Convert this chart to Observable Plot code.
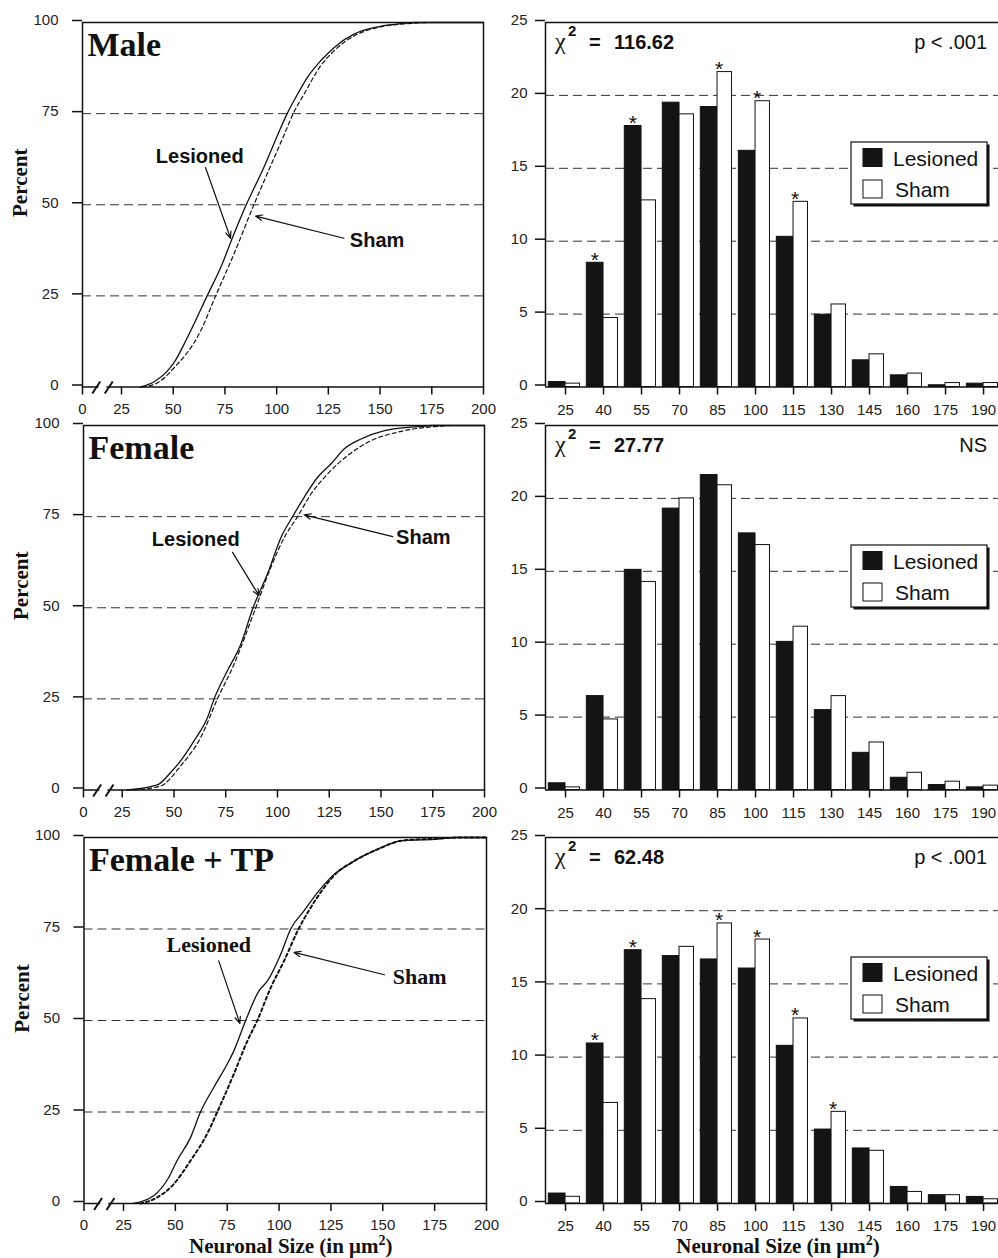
<!DOCTYPE html>
<html><head><meta charset="utf-8">
<script src="https://cdn.jsdelivr.net/npm/d3@7"></script>
<script src="https://cdn.jsdelivr.net/npm/@observablehq/plot@0.6"></script>
<style>
body{margin:0;background:#fff;overflow:hidden}
#wrap{position:relative;width:998px;height:1258px;overflow:hidden;background:#fff}
#wrap svg{position:absolute;overflow:visible}
</style></head><body><div id="wrap"></div>
<script>
// ---------- data ----------
const sizeTicks = [0, 25, 50, 75, 100, 125, 150, 175, 200];
const percentTicks = [0, 25, 50, 75, 100];
const percentGrid = [25, 50, 75];
const bins = [25, 40, 55, 70, 85, 100, 115, 130, 145, 160, 175, 190];
const countTicks = [0, 5, 10, 15, 20, 25];
const countGrid = [5, 10, 15, 20];
const panelNames = ["Male", "Female", "Female + TP"];
const chiValues = ["116.62", "27.77", "62.48"];
const pLabels = ["p < .001", "NS", "p < .001"];
const seriesNames = ["Lesioned", "Sham"];
const yTitle = "Percent";
const xTitle = "Neuronal Size (in \u03bcm";

// cumulative curves: [size, percent]
const maleLesioned = [[34,0],[41,1.5],[47,4.3],[50.3,6.6],[56.8,13.5],[66.4,25],[72.9,32.7],[79.3,41.9],[85.3,50],[93.8,60.2],[100.6,69.3],[105.1,75],[109.2,79.4],[114.8,84.9],[121.3,89.5],[127.7,93.1],[137.4,96.8],[147.1,98.6],[160,99.7],[168,100],[200,100]];
const maleSham = [[35,0],[42,1],[50.3,5.2],[63.2,15.3],[70.5,25],[79.3,36.4],[89,50],[94.6,57.4],[103.7,69.3],[108,75],[113.2,80.3],[121.3,88.1],[127.7,92.2],[137.4,96.3],[148.7,98.6],[163.5,99.7],[175,100],[200,100]];
const femaleLesioned = [[27.4,0],[42,1.4],[48.4,4.8],[53.2,8],[59.7,13.5],[66.2,19.9],[69.4,25],[75.8,32.7],[82.3,40],[88.2,50],[95.2,59.3],[101.7,69.3],[107.3,75],[112.9,80.3],[119.4,85.8],[125.9,89.5],[132.3,93.6],[140.4,96.3],[151.7,98.6],[167.8,99.7],[175,100],[200,100]];
const femaleSham = [[30.6,0],[43.5,1.1],[53.2,6.6],[62.9,14.4],[71,25],[79,34.5],[89.5,50],[96.8,61.1],[103.3,69.3],[109.7,75],[116.2,81.2],[124.2,86.7],[134,91.8],[143.6,95.4],[159.8,98.4],[175.9,99.7],[185,100],[200,100]];
const tpLesioned = [[29.8,0],[39.5,2.1],[46.8,7.1],[50.8,11.7],[57.3,18],[62.1,25],[68.5,31.7],[75,38.1],[78.2,41.7],[83.9,50],[90.3,58.1],[94.4,60.8],[100.8,68.1],[105.6,75],[112.1,80],[118.6,85],[125,89.1],[136.3,93.6],[147.6,96.8],[158.9,99.1],[175,99.5],[185,100],[200,100]];
const tpSham = [[33.1,0],[41.1,1.6],[49.2,5.3],[57.3,11.7],[65.3,19],[70.2,25],[78.2,35.4],[84.7,44.4],[89.5,50],[96,59],[102.4,66.3],[109.4,75],[115.3,80.9],[121.7,86.3],[126.6,89.7],[136.3,93.6],[147.6,96.8],[158.9,99.1],[175,99.7],[190,100],[200,100]];

// histograms (percent per bin)
const maleLesionedHist = [0.34,8.52,17.9,19.5,19.2,16.2,10.3,4.96,1.83,0.8,0.12,0.23];
const maleShamHist = [0.23,4.73,12.8,18.7,21.6,19.6,12.7,5.66,2.24,0.92,0.27,0.27];
const femaleLesionedHist = [0.46,6.44,15.1,19.3,21.6,17.6,10.16,5.48,2.55,0.84,0.34,0.18];
const femaleShamHist = [0.18,4.84,14.27,20.0,20.9,16.8,11.2,6.44,3.26,1.18,0.57,0.30];
const tpLesionedHist = [0.68,10.93,17.3,16.9,16.67,16.05,10.77,5.05,3.76,1.13,0.57,0.45];
const tpShamHist = [0.46,6.87,13.96,17.53,19.13,18.03,12.64,6.26,3.6,0.79,0.57,0.29];

// significance markers: [bin, series]
const maleStars = [[40,"Lesioned"],[55,"Lesioned"],[85,"Sham"],[100,"Sham"],[115,"Sham"]];
const femaleStars = [];
const tpStars = [[40,"Lesioned"],[55,"Lesioned"],[85,"Sham"],[100,"Sham"],[115,"Sham"],[130,"Sham"]];

// curve annotations: [label, textX, textY, arrowX1, arrowY1, arrowX2, arrowY2] in data units
const maleNotes = [["Lesioned",62.8,61.5,65.6,60.2,77.7,40.8],["Sham",135.4,38.4,132.5,40.8,89.8,46.9]];
const femaleNotes = [["Lesioned",60.5,67.0,78.3,65.2,91.1,53.3],["Sham",157.3,67.5,155.7,69.5,112.9,75.5]];
const tpNotes = [["Lesioned",66.1,68.6,70.9,66.3,81.1,49.2],["Sham",154.8,59.9,150.8,62.5,107.2,68.6]];

// ---------- layout ----------
const SANS = "'Liberation Sans', Arial, Helvetica, sans-serif";
const SERIF = "'Liberation Serif', 'Times New Roman', serif";
const INK = "#111";
const MT = 22, MB = 60;
const rows = [
  {top: 22, h: 364.5, xr: [82, 121, 483]},
  {top: 425, h: 364.5, xr: [83, 121.7, 484]},
  {top: 837, h: 366, xr: [83.5, 123, 486]}
];
const histDomain = [17.1, 195.9];
const wrap = document.getElementById("wrap");
const baseStyle = {background: "transparent", overflow: "visible", fontFamily: SANS, fontSize: "15px", color: INK};

function xTitleMark(offset) {
  return (index, scales, values, dims) => {
    const cx = (dims.marginLeft + dims.width - dims.marginRight) / 2 + offset;
    const y = dims.height - dims.marginBottom + 50;
    const t = d3.create("svg:text").attr("x", cx).attr("y", y).attr("text-anchor", "middle")
      .attr("font-family", SERIF).attr("font-weight", "bold").attr("font-size", 21).attr("fill", INK);
    t.append("tspan").text(xTitle);
    t.append("tspan").attr("dy", -8).attr("font-size", 14).text("2");
    t.append("tspan").attr("dy", 8).text(")");
    return t.node();
  };
}

function leftPanel(i, les, sham, notes, shamDash, shamWidth, serifNotes) {
  const r = rows[i];
  const H = MT + r.h + MB;
  const [a, b, c] = r.xr;
  // axis origin value: the 0–25 span is compressed (axis break)
  const origin = (25 * (c - a) - 200 * (b - a)) / (c - b);
  const tickPos = sizeTicks.map(v => (v === 0 ? origin : v));
  const noteFont = serifNotes ? {fontFamily: SERIF, fontWeight: "bold", fontSize: 22} : {fontFamily: SANS, fontWeight: "bold", fontSize: 20};
  const marks = [
    Plot.ruleY(percentGrid, {stroke: "#333", strokeWidth: 1, strokeDasharray: "9,5"}),
    Plot.line(les, {x: d => d[0], y: d => d[1], stroke: INK, strokeWidth: 1.3, curve: "monotone-x"}),
    Plot.line(sham, {x: d => d[0], y: d => d[1], stroke: INK, strokeWidth: shamWidth, strokeDasharray: shamDash, curve: "monotone-x"}),
    Plot.frame({stroke: INK, strokeWidth: 1.5}),
    Plot.axisY(percentTicks, {tickSize: 10, tickPadding: 14, strokeWidth: 1.5, label: null, fill: "#222", dy: -2}),
    Plot.axisX(tickPos, {tickSize: 8, tickPadding: 8, strokeWidth: 1.5, label: null, fill: "#222",
      tickFormat: v => (v === origin ? "0" : String(v))}),
    (index, scales, values, dims) => {
      const g = d3.create("svg:g");
      const cx = scales.x((origin + 25) / 2) + 1, cy = dims.height - dims.marginBottom;
      g.append("line").attr("x1", cx - 4).attr("x2", cx + 4).attr("y1", cy).attr("y2", cy)
        .attr("stroke", "white").attr("stroke-width", 4);
      for (const o of [-6.2, 6.2]) {
        g.append("line").attr("x1", cx + o - 4).attr("y1", cy + 7).attr("x2", cx + o + 4).attr("y2", cy - 5)
          .attr("stroke", INK).attr("stroke-width", 2);
      }
      return g.node();
    },
    Plot.arrow(notes, {x1: d => d[3], y1: d => d[4], x2: d => d[5], y2: d => d[6], stroke: INK, strokeWidth: 1.2, headLength: 9, headAngle: 45}),
    Plot.text(notes.slice(0, 1), {x: d => d[1], y: d => d[2], text: d => d[0], textAnchor: "middle", lineAnchor: "bottom", fill: INK, ...noteFont}),
    Plot.text(notes.slice(1), {x: d => d[1], y: d => d[2], text: d => d[0], textAnchor: "start", lineAnchor: "bottom", fill: INK, ...noteFont}),
    Plot.text([panelNames[i]], {text: d => d, frameAnchor: "top-left", textAnchor: "start", lineAnchor: "bottom", dx: 5, dy: 33,
      fontFamily: SERIF, fontWeight: "bold", fontSize: 34, fill: INK}),
    Plot.text([yTitle], {text: d => d, frameAnchor: "left", textAnchor: "middle", lineAnchor: "middle", rotate: -90, dx: -62, dy: -22,
      fontFamily: SERIF, fontWeight: "bold", fontSize: 21, fill: INK})
  ];
  if (i === 2) marks.push(xTitleMark(6));
  const svg = Plot.plot({
    width: 500, height: H, marginTop: MT, marginBottom: MB, marginLeft: a, marginRight: 500 - c,
    style: baseStyle,
    x: {domain: [origin, 200]},
    y: {domain: [0, 100]},
    marks
  });
  svg.style.left = "0px";
  svg.style.top = (r.top - MT) + "px";
  wrap.appendChild(svg);
}

function histPanel(i, les, sham, stars) {
  const r = rows[i];
  const H = MT + r.h + MB;
  const valueOf = d => (d[1] === "Lesioned" ? les : sham)[bins.indexOf(d[0])];
  const txt = (g, x, y, s, opts = {}) => g.append("text").attr("x", x).attr("y", y).attr("text-anchor", opts.anchor || "start")
    .attr("font-family", opts.family || SANS).attr("font-weight", opts.weight || "normal").attr("font-size", opts.size || 20)
    .attr("fill", INK).text(s);
  const marks = [
    Plot.ruleY(countGrid, {stroke: "#333", strokeWidth: 1, strokeDasharray: "9,5"}),
    Plot.rect(bins, {x1: d => d - 6.6, x2: d => d, y1: 0, y2: (d, j) => les[j], fill: "#141414", stroke: INK, strokeWidth: 1}),
    Plot.rect(bins, {x1: d => d, x2: d => d + 5.7, y1: 0, y2: (d, j) => sham[j], fill: "white", stroke: INK, strokeWidth: 1}),
    Plot.text(stars, {x: d => d[0] + (d[1] === "Lesioned" ? -3.4 : 0.6), y: valueOf, text: () => "*",
      lineAnchor: "bottom", dy: 4, fontSize: 21, fontFamily: SANS, fill: INK}),
    Plot.ruleY([0, 25], {stroke: INK, strokeWidth: 1.5}),
    Plot.ruleX([histDomain[0]], {y1: 0, y2: 25, stroke: INK, strokeWidth: 1.5}),
    Plot.axisY(countTicks, {tickSize: 10, tickPadding: 8, strokeWidth: 1.5, label: null, fill: "#222", dy: -2}),
    Plot.axisX(bins, {tickSize: 8, tickPadding: 9, strokeWidth: 1.5, label: null, fill: "#222"}),
    (index, scales, values, dims) => {
      const g = d3.create("svg:g");
      const y = dims.marginTop + 27;
      txt(g, 55, y, "\u03c7", {family: SERIF, size: 24});
      txt(g, 68, y - 13, "2", {weight: "bold", size: 15});
      txt(g, 89, y, "=", {weight: "bold", size: 20});
      txt(g, 114, y, chiValues[i], {weight: "bold", size: 20});
      txt(g, 487, y, pLabels[i], {anchor: "end", size: 20});
      return g.node();
    },
    (index, scales, values, dims) => {
      const g = d3.create("svg:g");
      const x0 = 351, y0 = dims.marginTop + 120, w = 136, h = 62;
      g.append("rect").attr("x", x0 + 2.5).attr("y", y0 + 2.5).attr("width", w).attr("height", h).attr("fill", INK);
      g.append("rect").attr("x", x0).attr("y", y0).attr("width", w).attr("height", h).attr("fill", "white").attr("stroke", INK).attr("stroke-width", 1.2);
      g.append("rect").attr("x", x0 + 12).attr("y", y0 + 6.5).attr("width", 19).attr("height", 18).attr("fill", "#141414").attr("stroke", INK);
      g.append("rect").attr("x", x0 + 12).attr("y", y0 + 38).attr("width", 19).attr("height", 18).attr("fill", "white").attr("stroke", INK);
      txt(g, x0 + 42, y0 + 24, seriesNames[0], {size: 21});
      txt(g, x0 + 44, y0 + 55, seriesNames[1], {size: 21});
      return g.node();
    }
  ];
  if (i === 2) marks.push(xTitleMark(6.5));
  const svg = Plot.plot({
    width: 498, height: H, marginTop: MT, marginBottom: MB, marginLeft: 45, marginRight: 0,
    style: baseStyle,
    x: {domain: histDomain},
    y: {domain: [0, 25]},
    marks
  });
  svg.style.left = "500px";
  svg.style.top = (r.top - MT) + "px";
  wrap.appendChild(svg);
}

leftPanel(0, maleLesioned, maleSham, maleNotes, "4,3", 1.2, false);
leftPanel(1, femaleLesioned, femaleSham, femaleNotes, "4,3", 1.2, false);
leftPanel(2, tpLesioned, tpSham, tpNotes, "3,3", 2, true);
histPanel(0, maleLesionedHist, maleShamHist, maleStars);
histPanel(1, femaleLesionedHist, femaleShamHist, femaleStars);
histPanel(2, tpLesionedHist, tpShamHist, tpStars);
</script>
</body></html>
